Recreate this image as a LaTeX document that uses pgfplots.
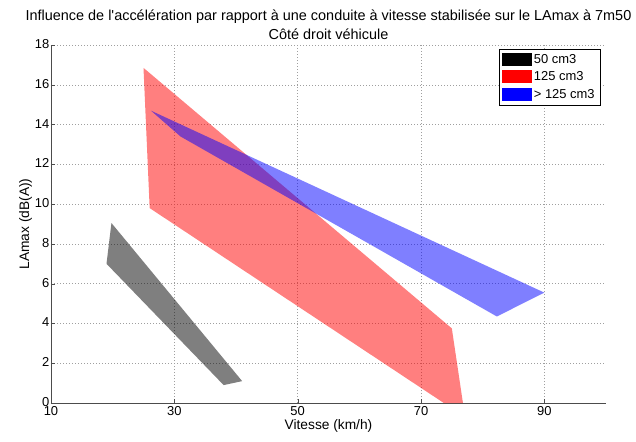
\documentclass[border=0pt]{standalone}
\usepackage{fontspec}
\setmainfont{Liberation Sans}
\newfontfamily\plainfont{Liberation Sans}
\usepackage{pgfplots}
\pgfplotsset{compat=1.18}
\begin{document}
\begin{tikzpicture}
\begin{axis}[
  name=ax,
  scale only axis,
  width=555bp, height=358bp,
  xmin=10, xmax=100, ymin=0, ymax=18,
  xtick={10,30,50,70,90},
  ytick={0,2,...,18},
  axis x line*=bottom, axis y line*=left,
  axis line style={gray!60!black, -},
  tick align=inside,
  major tick length=4bp,
  tick style={gray!60!black},
  grid=major,
  major grid style={gray!75, line width=0.5bp, dash pattern=on 1bp off 2bp},
  /pgf/number format/assume math mode=true,
  tick label style={font=\fontsize{13}{15}\selectfont},
  xticklabel style={inner ysep=3.5bp},
  yticklabel style={inner xsep=1.5bp, yshift=1bp},
  label style={font=\fontsize{13.8}{16}\selectfont},
  title style={font=\plainfont\fontsize{14.5}{19}\selectfont, align=center, yshift=-4bp},
  title={Influence de l'accélération par rapport à une conduite à vitesse stabilisée sur le LAmax à 7m50\\Côté droit véhicule},
  xlabel={Vitesse (km/h)},
  ylabel={LAmax (dB(A))},
  xlabel style={yshift=3bp},
  ylabel style={yshift=-2bp},
  legend style={at={(0.989,0.989)}, anchor=north east, draw=black, thin,
    font=\fontsize{13}{15}\selectfont, legend cell align=left,
    inner xsep=3bp, inner ysep=3bp, row sep=3bp},
]
\addplot[draw=none, fill=black, fill opacity=0.5,
  legend image code/.code={\fill[black, fill opacity=1] (0bp,-6.5bp) rectangle (30bp,6.5bp);}]
  coordinates {(19.8,9.05) (41,1.1) (38,0.9) (19,7)} -- cycle;
\addlegendentry{50 cm3}
\addplot[draw=none, fill=red, fill opacity=0.5,
  legend image code/.code={\fill[red, fill opacity=1] (0bp,-6.5bp) rectangle (30bp,6.5bp);}]
  coordinates {(25,16.85) (75,3.75) (76.8,0) (73.7,0) (26,9.8)} -- cycle;
\addlegendentry{125 cm3}
\addplot[draw=none, fill=blue, fill opacity=0.5,
  legend image code/.code={\fill[blue, fill opacity=1] (0bp,-6.5bp) rectangle (30bp,6.5bp);}]
  coordinates {(26.2,14.7) (90,5.55) (82.3,4.35) (31,13.4)} -- cycle;
\addlegendentry{> 125 cm3}
\end{axis}
\path ([xshift=-51bp,yshift=-38bp]ax.south west) rectangle ([xshift=30bp,yshift=45bp]ax.north east);
\end{tikzpicture}
\end{document}
